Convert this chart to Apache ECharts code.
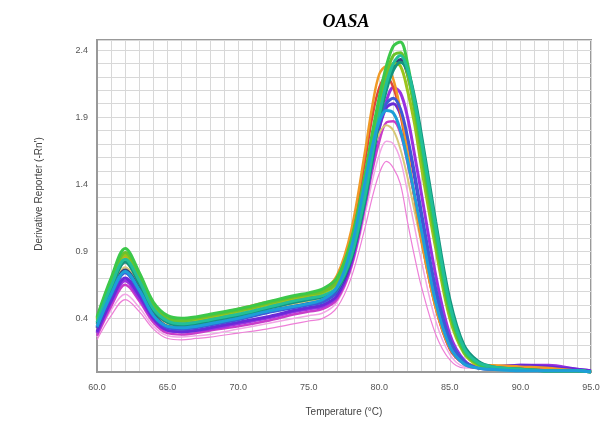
<!DOCTYPE html>
<html>
<head>
<meta charset="utf-8">
<script src="https://cdn.jsdelivr.net/npm/echarts@6/dist/echarts.min.js"></script>
<style>
html,body{margin:0;padding:0;background:#fff;}
#chart{width:610px;height:430px;}
</style>
</head>
<body>
<div id="chart"></div>
<script>
// Temperature points (°C) shared by all curves
const temps = [60, 61, 62, 63, 64, 65, 66, 67, 68, 70, 72, 74, 75, 76, 77, 78, 79, 79.5, 80, 80.5, 81, 81.5, 82, 82.5, 83, 84, 85, 86, 87, 88, 90, 92, 94, 95];

const xTickLabels = ['60.0', '65.0', '70.0', '75.0', '80.0', '85.0', '90.0', '95.0'];
const yTickLabels = ['0.4', '0.9', '1.4', '1.9', '2.4'];

// Derivative reporter values, one array per well
const pinkLow    = [0.24, 0.42, 0.54, 0.45, 0.32, 0.25, 0.24, 0.25, 0.26, 0.29, 0.32, 0.36, 0.38, 0.40, 0.48, 0.70, 1.08, 1.30, 1.48, 1.57, 1.52, 1.40, 1.12, 0.86, 0.63, 0.28, 0.09, 0.03, 0.03, 0.03, 0.04, 0.03, 0.01, 0.00];
const pinkLight  = [0.26, 0.46, 0.58, 0.48, 0.34, 0.27, 0.26, 0.27, 0.28, 0.32, 0.36, 0.40, 0.42, 0.44, 0.52, 0.76, 1.18, 1.42, 1.62, 1.72, 1.70, 1.58, 1.34, 1.08, 0.82, 0.38, 0.13, 0.04, 0.03, 0.03, 0.04, 0.03, 0.01, 0.00];
const magenta    = [0.27, 0.49, 0.65, 0.53, 0.37, 0.29, 0.28, 0.29, 0.31, 0.34, 0.38, 0.43, 0.45, 0.47, 0.54, 0.78, 1.24, 1.50, 1.72, 1.86, 1.87, 1.78, 1.56, 1.30, 1.02, 0.50, 0.18, 0.06, 0.03, 0.03, 0.04, 0.03, 0.01, 0.00];
const violet     = [0.29, 0.52, 0.68, 0.55, 0.39, 0.31, 0.30, 0.31, 0.32, 0.36, 0.40, 0.45, 0.47, 0.49, 0.56, 0.80, 1.26, 1.55, 1.82, 2.02, 2.12, 2.08, 1.90, 1.62, 1.32, 0.72, 0.28, 0.09, 0.04, 0.04, 0.05, 0.05, 0.02, 0.01];
const purple     = [0.30, 0.53, 0.70, 0.57, 0.40, 0.31, 0.30, 0.31, 0.33, 0.37, 0.41, 0.46, 0.48, 0.50, 0.57, 0.82, 1.30, 1.58, 1.82, 1.97, 2.00, 1.92, 1.72, 1.45, 1.15, 0.60, 0.23, 0.08, 0.04, 0.04, 0.05, 0.04, 0.02, 0.01];
const khaki      = [0.35, 0.60, 0.78, 0.63, 0.44, 0.35, 0.34, 0.35, 0.37, 0.42, 0.47, 0.51, 0.53, 0.55, 0.63, 0.90, 1.38, 1.62, 1.78, 1.84, 1.80, 1.66, 1.45, 1.20, 0.95, 0.47, 0.17, 0.06, 0.03, 0.02, 0.01, 0.01, 0.01, 0.00];
const red        = [0.36, 0.63, 0.82, 0.66, 0.46, 0.37, 0.36, 0.38, 0.40, 0.45, 0.50, 0.54, 0.56, 0.59, 0.69, 1.00, 1.58, 1.90, 2.12, 2.20, 2.12, 1.92, 1.62, 1.30, 0.98, 0.48, 0.17, 0.06, 0.03, 0.02, 0.02, 0.01, 0.01, 0.00];
const orange     = [0.38, 0.66, 0.86, 0.69, 0.48, 0.39, 0.38, 0.40, 0.42, 0.47, 0.52, 0.56, 0.58, 0.61, 0.72, 1.05, 1.65, 1.98, 2.22, 2.28, 2.18, 1.95, 1.65, 1.30, 0.98, 0.48, 0.18, 0.07, 0.05, 0.05, 0.04, 0.03, 0.01, 0.00];
const navy       = [0.33, 0.58, 0.76, 0.62, 0.43, 0.34, 0.33, 0.34, 0.36, 0.40, 0.45, 0.49, 0.51, 0.53, 0.60, 0.84, 1.30, 1.60, 1.90, 2.12, 2.28, 2.33, 2.22, 1.98, 1.68, 1.04, 0.48, 0.17, 0.06, 0.03, 0.02, 0.01, 0.01, 0.00];
const blue       = [0.33, 0.57, 0.74, 0.60, 0.42, 0.33, 0.32, 0.33, 0.35, 0.39, 0.44, 0.48, 0.50, 0.52, 0.60, 0.86, 1.35, 1.62, 1.86, 2.00, 2.04, 1.96, 1.75, 1.48, 1.18, 0.62, 0.24, 0.08, 0.03, 0.02, 0.02, 0.01, 0.01, 0.00];
const olive      = [0.40, 0.68, 0.87, 0.70, 0.49, 0.40, 0.38, 0.39, 0.41, 0.45, 0.50, 0.55, 0.57, 0.59, 0.66, 0.92, 1.40, 1.70, 1.98, 2.18, 2.30, 2.28, 2.10, 1.85, 1.52, 0.92, 0.40, 0.14, 0.05, 0.03, 0.02, 0.01, 0.01, 0.00];
const green2     = [0.39, 0.67, 0.89, 0.72, 0.50, 0.40, 0.38, 0.40, 0.42, 0.46, 0.51, 0.56, 0.58, 0.60, 0.67, 0.93, 1.42, 1.72, 2.00, 2.22, 2.36, 2.38, 2.22, 1.95, 1.62, 0.98, 0.44, 0.15, 0.06, 0.03, 0.02, 0.01, 0.01, 0.00];
const green1     = [0.41, 0.70, 0.92, 0.74, 0.52, 0.42, 0.40, 0.41, 0.43, 0.47, 0.52, 0.57, 0.59, 0.62, 0.70, 0.98, 1.48, 1.78, 2.05, 2.28, 2.43, 2.46, 2.30, 2.00, 1.68, 1.02, 0.46, 0.16, 0.06, 0.03, 0.02, 0.01, 0.01, 0.00];
const darkTeal   = [0.36, 0.62, 0.82, 0.66, 0.46, 0.37, 0.35, 0.36, 0.38, 0.42, 0.47, 0.52, 0.54, 0.56, 0.62, 0.84, 1.28, 1.58, 1.88, 2.10, 2.25, 2.31, 2.25, 2.05, 1.76, 1.12, 0.54, 0.20, 0.08, 0.04, 0.02, 0.01, 0.01, 0.00];
const teal       = [0.37, 0.64, 0.84, 0.68, 0.47, 0.38, 0.36, 0.37, 0.39, 0.43, 0.48, 0.53, 0.55, 0.57, 0.63, 0.86, 1.32, 1.62, 1.92, 2.15, 2.30, 2.36, 2.26, 2.02, 1.72, 1.08, 0.50, 0.18, 0.07, 0.04, 0.02, 0.01, 0.01, 0.00];
const skyBlue    = [0.34, 0.58, 0.75, 0.61, 0.42, 0.34, 0.33, 0.34, 0.36, 0.40, 0.45, 0.49, 0.51, 0.54, 0.63, 0.92, 1.42, 1.68, 1.87, 1.95, 1.93, 1.80, 1.58, 1.32, 1.05, 0.52, 0.19, 0.06, 0.03, 0.02, 0.01, 0.01, 0.01, 0.00];

const wells = [
  { name: 'pinkLow',   data: pinkLow,   color: '#ee7fd8', width: 1.2 },
  { name: 'pinkLight', data: pinkLight, color: '#f2a6e6', width: 1.5 },
  { name: 'magenta',   data: magenta,   color: '#c93cc9', width: 2.5 },
  { name: 'violet',    data: violet,    color: '#9b30e0', width: 3 },
  { name: 'purple',    data: purple,    color: '#6a2ad8', width: 3 },
  { name: 'khaki',     data: khaki,     color: '#d8c878', width: 2 },
  { name: 'red',       data: red,       color: '#e0443a', width: 2.5 },
  { name: 'orange',    data: orange,    color: '#f09a26', width: 2.5 },
  { name: 'navy',      data: navy,      color: '#34407e', width: 3 },
  { name: 'blue',      data: blue,      color: '#3c5ad6', width: 3 },
  { name: 'olive',     data: olive,     color: '#9cc41c', width: 3 },
  { name: 'green2',    data: green2,    color: '#6cc22c', width: 3 },
  { name: 'green1',    data: green1,    color: '#3cc84a', width: 3 },
  { name: 'darkTeal',  data: darkTeal,  color: '#14937e', width: 3 },
  { name: 'teal',      data: teal,      color: '#22bf98', width: 3 },
  { name: 'skyBlue',   data: skyBlue,   color: '#1d9ed8', width: 3 }
];

const chart = echarts.init(document.getElementById('chart'), null, { renderer: 'canvas' });

const labelFont = { fontFamily: 'Liberation Sans, Arial, sans-serif', fontSize: 9, color: '#555' };

chart.setOption({
  animation: false,
  backgroundColor: '#ffffff',
  title: {
    text: 'OASA',
    left: 341,
    top: 8,
    textAlign: 'center',
    textStyle: { fontFamily: 'Liberation Serif, Times New Roman, serif', fontStyle: 'italic', fontWeight: 'bold', fontSize: 18, color: '#000' }
  },
  grid: { left: 97, right: 19, top: 40, bottom: 58, show: true, borderColor: '#999', borderWidth: 2, backgroundColor: '#fff' },
  xAxis: {
    type: 'value',
    min: 60, max: 95, interval: 1,
    name: 'Temperature (°C)',
    nameLocation: 'middle',
    nameGap: 35,
    nameTextStyle: { fontFamily: 'Liberation Sans, Arial, sans-serif', fontSize: 10, color: '#444' },
    axisLine: { show: true, lineStyle: { color: '#999', width: 2 } },
    axisTick: { show: false },
    axisLabel: Object.assign({ margin: 11, formatter: v => { const s = Number(v).toFixed(1); return xTickLabels.includes(s) ? s : ''; } }, labelFont),
    splitLine: { show: true, lineStyle: { color: '#d8d8d8', width: 1 } }
  },
  yAxis: {
    type: 'value',
    min: 0, max: 2.475, interval: 0.1,
    name: "Derivative Reporter (-Rn')",
    nameLocation: 'middle',
    nameGap: 53,
    nameRotate: 90,
    nameTextStyle: { fontFamily: 'Liberation Sans, Arial, sans-serif', fontSize: 10, color: '#444', padding: [0, 0, 0, 24] },
    axisLine: { show: true, lineStyle: { color: '#999', width: 2 } },
    axisTick: { show: false },
    axisLabel: Object.assign({ margin: 9, showMaxLabel: false, formatter: v => { const s = Number(v).toFixed(1); return (yTickLabels.includes(s) && Math.abs(v - Number(s)) < 1e-6) ? s : ''; } }, labelFont),
    splitLine: { show: true, lineStyle: { color: '#d8d8d8', width: 1 } }
  },
  series: wells.map(w => ({
    name: w.name,
    type: 'line',
    smooth: 0.35,
    showSymbol: false,
    symbol: 'none',
    clip: true,
    lineStyle: { color: w.color, width: w.width },
    data: temps.map((t, i) => [t, w.data[i]])
  }))
});
</script>
</body>
</html>
